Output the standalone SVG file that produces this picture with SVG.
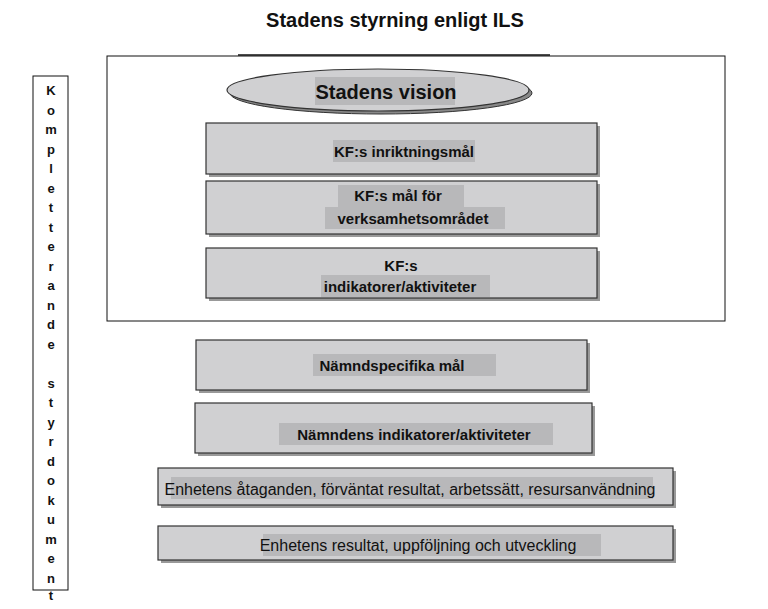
<svg xmlns="http://www.w3.org/2000/svg" width="768" height="609" viewBox="0 0 768 609">
<style>
.box{fill:#d0d0d2;stroke:#333;stroke-width:1.2}
.sh{fill:#999}
.hl{fill:#b8b8ba}
.b{font-family:"Liberation Sans",Arial,sans-serif;font-weight:bold;font-size:15px;fill:#111;text-anchor:middle}
.n{font-family:"Liberation Sans",Arial,sans-serif;font-size:16px;fill:#111;text-anchor:middle}
.v{font-family:"Liberation Sans",Arial,sans-serif;font-weight:bold;font-size:13px;fill:#111;text-anchor:middle}
</style>
<rect width="768" height="609" fill="#fff"/>
<text x="395" y="27" class="b" style="font-size:20px">Stadens styrning enligt ILS</text>
<line x1="238" y1="55" x2="550" y2="55" stroke="#111" stroke-width="1.5"/>
<rect x="107" y="56" width="618" height="265" fill="none" stroke="#111" stroke-width="1"/>
<g id="vision">
<ellipse cx="381" cy="93" rx="151" ry="21" fill="#888" stroke="#333"/>
<ellipse cx="378" cy="90" rx="151" ry="21" class="box"/>
<rect x="315" y="77" width="140" height="28" class="hl"/>
<text x="386" y="99" class="b" style="font-size:20px">Stadens vision</text>
</g>
<g id="kf1">
<rect x="209" y="126" width="391" height="51" class="sh"/>
<rect x="206" y="123" width="391" height="51" class="box"/>
<rect x="333" y="140" width="142" height="22" class="hl"/>
<text x="404" y="157" class="b">KF:s inriktningsmål</text>
</g>
<g id="kf2">
<rect x="209" y="184" width="391" height="53" class="sh"/>
<rect x="206" y="181" width="391" height="53" class="box"/>
<rect x="338" y="185" width="126" height="22" class="hl"/>
<rect x="325" y="207" width="180" height="22" class="hl"/>
<text x="398" y="201" class="b">KF:s mål för</text>
<text x="413" y="224" class="b">verksamhetsområdet</text>
</g>
<g id="kf3">
<rect x="209" y="251" width="391" height="50" class="sh"/>
<rect x="206" y="248" width="391" height="50" class="box"/>
<rect x="321" y="275" width="169" height="22" class="hl"/>
<text x="401" y="271" class="b">KF:s</text>
<text x="400" y="292" class="b">indikatorer/aktiviteter</text>
</g>
<g id="n1">
<rect x="199" y="343" width="391" height="50" class="sh"/>
<rect x="196" y="340" width="391" height="50" class="box"/>
<rect x="313" y="354" width="183" height="22" class="hl"/>
<text x="392" y="371" class="b">Nämndspecifika mål</text>
</g>
<g id="n2">
<rect x="198" y="406" width="397" height="50" class="sh"/>
<rect x="195" y="403" width="397" height="50" class="box"/>
<rect x="279" y="423" width="274" height="22" class="hl"/>
<text x="414" y="440" class="b">Nämndens indikatorer/aktiviteter</text>
</g>
<g id="e1">
<rect x="161" y="471" width="515" height="37" class="sh"/>
<rect x="158" y="468" width="515" height="37" class="box"/>
<rect x="171" y="477" width="482" height="22" class="hl"/>
<text x="410" y="495" class="n">Enhetens åtaganden, förväntat resultat, arbetssätt, resursanvändning</text>
</g>
<g id="e2">
<rect x="161" y="529" width="515" height="34" class="sh"/>
<rect x="158" y="526" width="515" height="34" class="box"/>
<rect x="263" y="534" width="338" height="22" class="hl"/>
<text x="418" y="551" class="n">Enhetens resultat, uppföljning och utveckling</text>
</g>
<g id="side">
<rect x="33" y="76" width="35" height="514" fill="#fff" stroke="#111" stroke-width="1"/>
<text class="v">
<tspan x="51" y="95">K</tspan><tspan x="51" y="114.5">o</tspan><tspan x="51" y="134">m</tspan><tspan x="51" y="153.5">p</tspan><tspan x="51" y="173">l</tspan><tspan x="51" y="192.5">e</tspan><tspan x="51" y="212">t</tspan><tspan x="51" y="231.5">t</tspan><tspan x="51" y="251">e</tspan><tspan x="51" y="270.5">r</tspan><tspan x="51" y="290">a</tspan><tspan x="51" y="309.5">n</tspan><tspan x="51" y="329">d</tspan><tspan x="51" y="348.5">e</tspan><tspan x="51" y="387.5">s</tspan><tspan x="51" y="407">t</tspan><tspan x="51" y="426.5">y</tspan><tspan x="51" y="446">r</tspan><tspan x="51" y="465.5">d</tspan><tspan x="51" y="485">o</tspan><tspan x="51" y="504.5">k</tspan><tspan x="51" y="524">u</tspan><tspan x="51" y="543.5">m</tspan><tspan x="51" y="563">e</tspan><tspan x="51" y="582.5">n</tspan>
</text>
<text class="v"><tspan x="51" y="600">t</tspan></text>
</g>
</svg>
